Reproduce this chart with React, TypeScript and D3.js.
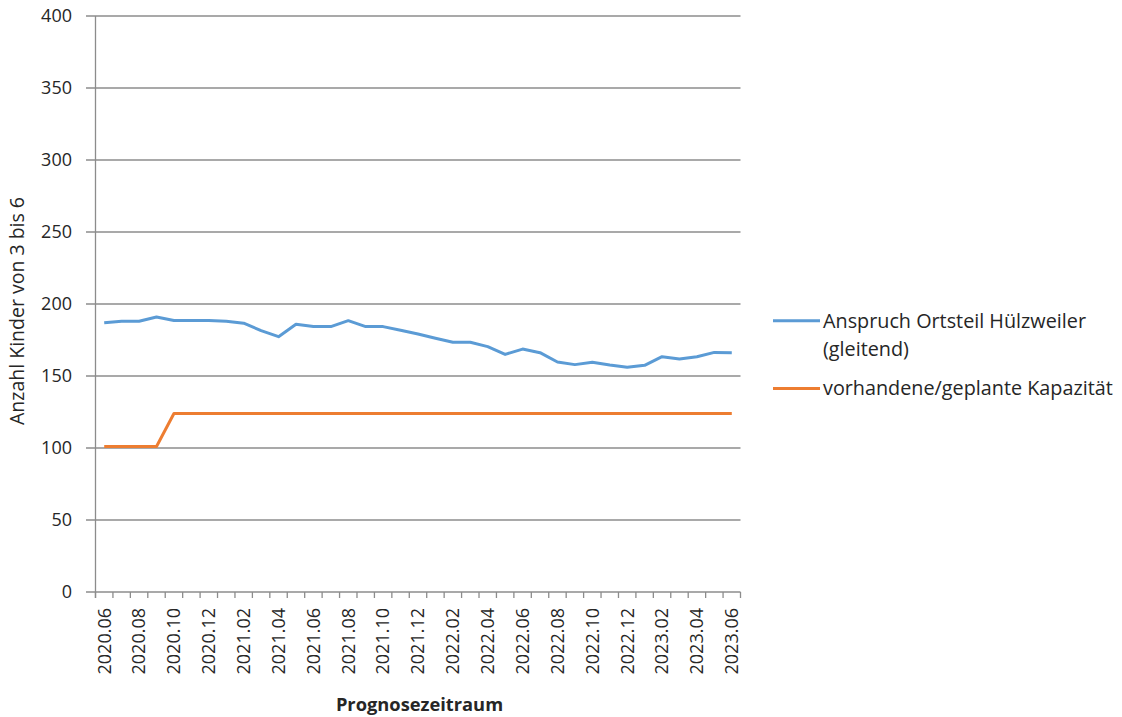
import React from "react";
import * as d3 from "d3";

const months: string[] = [
  "2020.06","2020.07","2020.08","2020.09","2020.10","2020.11","2020.12",
  "2021.01","2021.02","2021.03","2021.04","2021.05","2021.06","2021.07","2021.08","2021.09","2021.10","2021.11","2021.12",
  "2022.01","2022.02","2022.03","2022.04","2022.05","2022.06","2022.07","2022.08","2022.09","2022.10","2022.11","2022.12",
  "2023.01","2023.02","2023.03","2023.04","2023.05","2023.06",
];

const anspruch: number[] = [
  187, 188, 188, 191, 188.5, 188.5, 188.5, 188, 186.7, 181.5, 177.3, 185.9, 184.3, 184.3, 188.4, 184.3, 184.3,
  181.8, 179.2, 176.2, 173.4, 173.4, 170.4, 165, 168.7, 166.2, 159.7, 157.9, 159.5, 157.6, 156, 157.4,
  163.4, 161.8, 163.4, 166.4, 166.2,
];

const kapazitaet: number[] = [
  101, 101, 101, 101, 124, 124, 124, 124, 124, 124, 124, 124, 124, 124, 124, 124, 124, 124, 124,
  124, 124, 124, 124, 124, 124, 124, 124, 124, 124, 124, 124, 124, 124, 124, 124, 124, 124,
];

const yTicks: number[] = [0, 50, 100, 150, 200, 250, 300, 350, 400];

const seriesNames: string[] = ["Anspruch Ortsteil Hülzweiler", "(gleitend)", "vorhandene/geplante Kapazität"];
const colors = { blue: "#5B9BD5", orange: "#ED7D31" };

const FONT = "'Open Sans', 'Liberation Sans', sans-serif";

export default function App() {
  const W = 1122, H = 717;
  const left = 95.5, right = 740.5, top = 16, bottom = 592;

  const x = d3.scaleBand<string>().domain(months).range([left, right]).paddingInner(0).paddingOuter(0);
  const y = d3.scaleLinear().domain([0, 400]).range([bottom, top]);
  const cx = (m: string) => (x(m) as number) + x.bandwidth() / 2;

  const lineGen = d3.line<number>().x((_, i) => cx(months[i])).y((d) => y(d));

  const labelMonths = months.filter((_, i) => i % 2 === 0);
  const boundaries = d3.range(months.length + 1).map((i) => left + i * x.bandwidth());

  return (
    <svg width={W} height={H} style={{ position: "absolute", left: 0, top: 0, background: "#fff" }}>
      {/* gridlines */}
      {yTicks.map((t) => (
        <line key={"g" + t} x1={86} x2={right} y1={y(t)} y2={y(t)} stroke="#8c8c8c" strokeWidth={1.3} />
      ))}
      {/* y axis */}
      <line x1={left} x2={left} y1={top} y2={bottom + 6} stroke="#8c8c8c" strokeWidth={1.3} />
      {/* x ticks */}
      {boundaries.map((b, i) => (
        <line key={"xt" + i} x1={b} x2={b} y1={bottom} y2={bottom + 6} stroke="#8c8c8c" strokeWidth={1.3} />
      ))}
      {/* y labels */}
      {yTicks.map((t) => (
        <text key={"yl" + t} x={72} y={y(t)} dy="0.35em" textAnchor="end" fontFamily={FONT} fontSize={18} fill="#262626">
          {t}
        </text>
      ))}
      {/* x labels */}
      {labelMonths.map((m) => (
        <text
          key={"xl" + m}
          transform={`translate(${cx(m)},${608}) rotate(-90)`}
          dy="0.35em"
          textAnchor="end"
          fontFamily={FONT}
          fontSize={18}
          fill="#262626"
        >
          {m}
        </text>
      ))}
      {/* series */}
      <path d={lineGen(kapazitaet) || ""} fill="none" stroke={colors.orange} strokeWidth={3} strokeLinejoin="round" />
      <path d={lineGen(anspruch) || ""} fill="none" stroke={colors.blue} strokeWidth={3} strokeLinejoin="round" />
      {/* axis titles */}
      <text transform={`translate(24,311) rotate(-90)`} textAnchor="middle" fontFamily={FONT} fontSize={19.5} fill="#262626">
        Anzahl Kinder von 3 bis 6
      </text>
      <text x={419.5} y={711} textAnchor="middle" fontFamily={FONT} fontSize={18.3} fontWeight="bold" fill="#262626">
        Prognosezeitraum
      </text>
      {/* legend */}
      <line x1={773} x2={820} y1={320.7} y2={320.7} stroke={colors.blue} strokeWidth={3} />
      <text x={823} y={328} fontFamily={FONT} fontSize={19.8} fill="#262626">{seriesNames[0]}</text>
      <text x={823} y={356} fontFamily={FONT} fontSize={19.8} fill="#262626">{seriesNames[1]}</text>
      <line x1={773} x2={820} y1={388.5} y2={388.5} stroke={colors.orange} strokeWidth={3} />
      <text x={823} y={395} fontFamily={FONT} fontSize={19.8} fill="#262626">{seriesNames[2]}</text>
    </svg>
  );
}
